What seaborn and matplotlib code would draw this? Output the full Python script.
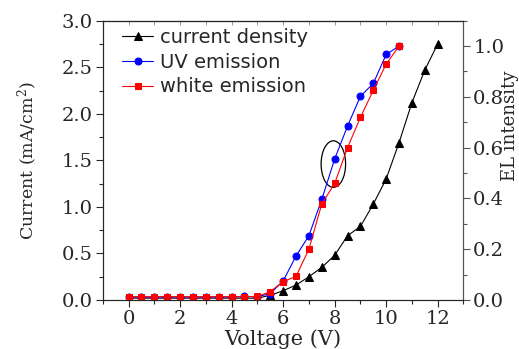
import numpy as np
import matplotlib
matplotlib.use('Agg')
import matplotlib.pyplot as plt
from matplotlib.patches import Ellipse
from matplotlib.ticker import MultipleLocator
import seaborn as sns

# data
voltage_j = [0, 0.5, 1, 1.5, 2, 2.5, 3, 3.5, 4, 4.5, 5, 5.5, 6, 6.5, 7, 7.5, 8, 8.5, 9, 9.5, 10, 10.5, 11, 11.5, 12]
current_density = [0.02, 0.02, 0.02, 0.02, 0.02, 0.02, 0.02, 0.02, 0.02, 0.02, 0.02, 0.05, 0.10, 0.16, 0.25,
                   0.35, 0.48, 0.69, 0.79, 1.03, 1.30, 1.69, 2.12, 2.47, 2.75]

voltage_el = [0, 0.5, 1, 1.5, 2, 2.5, 3, 3.5, 4, 4.5, 5, 5.5, 6, 6.5, 7, 7.5, 8, 8.5, 9, 9.5, 10, 10.5]
uv_emission = [0.012, 0.012, 0.012, 0.012, 0.012, 0.012, 0.012, 0.012, 0.012, 0.014, 0.013, 0.025, 0.075, 0.173,
               0.253, 0.396, 0.555, 0.685, 0.802, 0.853, 0.967, 1.0]
white_emission = [0.013, 0.013, 0.013, 0.013, 0.013, 0.013, 0.013, 0.013, 0.013, 0.013, 0.014, 0.033, 0.072,
                  0.093, 0.200, 0.378, 0.459, 0.600, 0.719, 0.826, 0.929, 1.0]

sns.set_style('ticks')
plt.rcParams['font.family'] = ['DejaVu Serif']
plt.rcParams['mathtext.fontset'] = 'dejavuserif'

fig = plt.figure(figsize=(5.19, 3.49), dpi=100)
ax = fig.add_axes([0.198, 0.1404, 0.695, 0.8003])
ax2 = ax.twinx()

sns.lineplot(x=voltage_j, y=current_density, ax=ax, color='black', marker='^', markersize=6,
             markeredgecolor='black', linewidth=0.8, label='current density', legend=False)
sns.lineplot(x=voltage_el, y=uv_emission, ax=ax2, color='#0000ff', marker='o', markersize=5,
             markeredgecolor='#0000ff', linewidth=0.8, label='UV emission', legend=False)
sns.lineplot(x=voltage_el, y=white_emission, ax=ax2, color='#ff0000', marker='s', markersize=5,
             markeredgecolor='#ff0000', linewidth=0.8, label='white emission', legend=False)

ax.add_patch(Ellipse((7.95, 1.46), 0.95, 0.5, fill=False, edgecolor='black', linewidth=0.9))

ax.set_xlim(-1, 13)
ax.set_ylim(0, 3.0)
ax2.set_ylim(0, 1.1)

ax.xaxis.set_major_locator(MultipleLocator(2))
ax.xaxis.set_minor_locator(MultipleLocator(1))
ax.yaxis.set_major_locator(MultipleLocator(0.5))
ax.yaxis.set_minor_locator(MultipleLocator(0.25))
ax2.yaxis.set_major_locator(MultipleLocator(0.2))
ax2.yaxis.set_minor_locator(MultipleLocator(0.1))

ax.tick_params(axis='both', which='major', direction='out', length=5, width=0.8, labelsize=14, pad=2)
ax.tick_params(axis='both', which='minor', direction='out', length=3, width=0.8)
ax2.tick_params(axis='y', which='major', direction='out', length=5, width=0.8, labelsize=14, pad=2,
                color='#555555')
ax2.tick_params(axis='y', which='minor', direction='out', length=3, width=0.8, color='#555555')
ax.yaxis.set_major_formatter(matplotlib.ticker.FormatStrFormatter('%.1f'))
ax2.yaxis.set_major_formatter(matplotlib.ticker.FormatStrFormatter('%.1f'))

top = ax.secondary_xaxis('top')
top.xaxis.set_major_locator(MultipleLocator(1))
top.tick_params(direction='in', length=3, width=0.6, color='#888888', labeltop=False)
top.spines['top'].set_linewidth(0.8)

for sp in ax.spines.values():
    sp.set_linewidth(0.8)
for sp in ax2.spines.values():
    sp.set_linewidth(0.8)
ax2.spines['right'].set_color('#555555')

ax.set_xlabel('Voltage (V)', fontsize=15)
ax.xaxis.set_label_coords(0.5, -0.105)
ax.xaxis.label.set_verticalalignment('top')
ax.set_ylabel('Current (mA/cm$^2$)', fontsize=12.5)
ax.yaxis.set_label_coords(-0.175, 0.5)
ax2.set_ylabel('EL intensity', fontsize=13)
ax2.yaxis.set_label_coords(1.105, 0.623)

h1, l1 = ax.get_legend_handles_labels()
h2, l2 = ax2.get_legend_handles_labels()
ax2.legend(h1 + h2, l1 + l2, loc='upper left', bbox_to_anchor=(0.054, 0.975), frameon=False,
           borderpad=0, borderaxespad=0, handlelength=1.6, handletextpad=0.36, labelspacing=0.3,
           prop={'family': 'DejaVu Sans', 'size': 14})

fig.savefig('out.png', dpi=100)
